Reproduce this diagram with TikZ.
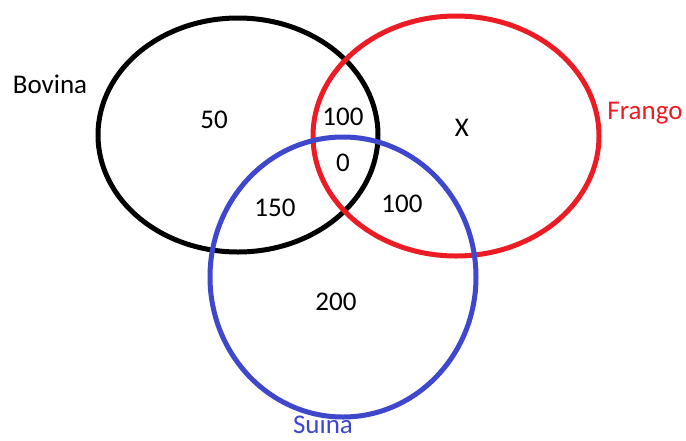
\documentclass[tikz,border=0pt]{standalone}
\usepackage{fontspec}
\setmainfont{Carlito}
\definecolor{vred}{RGB}{237,28,36}
\definecolor{vblue}{RGB}{63,72,204}
\tikzset{
  ring/.style={line width=5pt},
  lbl/.style={font=\fontsize{27}{32}\selectfont, inner sep=0pt}
}
\begin{document}
\begin{tikzpicture}[x=1pt,y=-1pt]
\useasboundingbox (0,0) rectangle (686,440);
\fill[white] (0,0) rectangle (686,440);
% the three sets
\draw[ring, black] (238,135) ellipse (140 and 117);
\draw[ring, vred] (456,136) ellipse (143 and 120);
\draw[ring, vblue] (343,277) ellipse (133 and 140);
% set names
\node[lbl] (bovina) at (50,84) {Bovina};
\node[lbl, text=vred] (frango) at (645,113) {Frango};
\node[lbl, text=vblue] (suina) at (323,424) {Suína};
% counts
\node[lbl] (nb) at (214,120) {50};
\node[lbl] (nbf) at (343,117) {100};
\node[lbl] (nf) at (462,128) {X};
\node[lbl] (nall) at (343,163) {0};
\node[lbl] (nbs) at (275,208) {150};
\node[lbl] (nfs) at (402,204) {100};
\node[lbl] (ns) at (336,302) {200};
\end{tikzpicture}
\end{document}
